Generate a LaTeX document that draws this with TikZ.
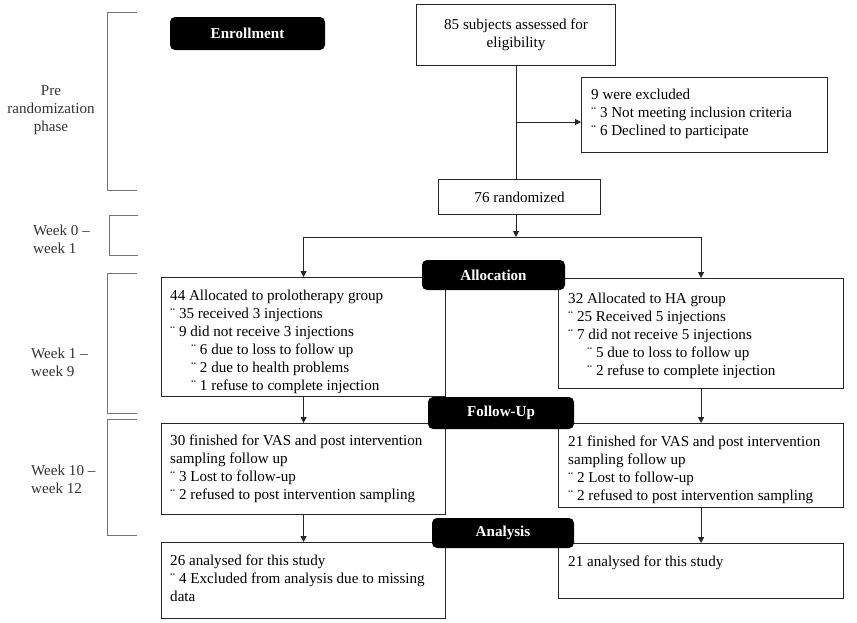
\documentclass[tikz,border=0pt]{standalone}
\usepackage{fontspec}
\setmainfont{Liberation Serif}
\usetikzlibrary{arrows.meta}
\begin{document}
\begin{tikzpicture}[x=1pt,y=-1pt,
  font=\fontsize{15.1}{18}\selectfont,
  box/.style={draw=black!85, line width=1.1pt, anchor=north west, inner sep=0pt},
  tag/.style={fill=black, rounded corners=5pt, text=white, font=\fontsize{15.1}{18}\selectfont\bfseries, inner sep=0pt},
  txt/.style={anchor=north west, inner sep=0pt, align=left},
  lbl/.style={inner sep=0pt, align=left, text=black!80},
  brk/.style={draw=black!55, line width=0.9pt},
  con/.style={draw=black!85, line width=1pt},
  arr/.style={con, -{Triangle[width=6pt,length=6pt]}}]
\useasboundingbox (0,0) rectangle (857,622);

% brackets
\path[brk] (137,12) -- (107,12) -- (107,190) -- (137,190);
\path[brk] (138,215) -- (109,215) -- (109,255) -- (138,255);
\path[brk] (137,273) -- (107,273) -- (107,413) -- (137,413);
\path[brk] (137,419) -- (107,419) -- (107,535) -- (137,535);

\node[lbl, align=center] (ph1) at (51,110) {Pre\\randomization\\phase};
\node[lbl, anchor=west] (ph2) at (33,239) {Week 0 --\\week 1};
\node[lbl, anchor=west] (ph3) at (31,362) {Week 1 --\\week 9};
\node[lbl, anchor=west] (ph4) at (31,479) {Week 10 --\\week 12};

% boxes
\node[box, minimum width=199pt, minimum height=61pt] (elig) at (416,4) {};
\node[box, minimum width=246pt, minimum height=75pt] (excl) at (581,77) {};
\node[box, minimum width=162pt, minimum height=35pt] (rand) at (438,179) {};
\node[box, minimum width=284pt, minimum height=119pt] (pro) at (161,277) {};
\node[box, minimum width=285pt, minimum height=110pt] (ha) at (558,278) {};
\node[box, minimum width=284pt, minimum height=91pt] (fuL) at (161,423) {};
\node[box, minimum width=285pt, minimum height=84pt] (fuR) at (558,423) {};
\node[box, minimum width=284pt, minimum height=76pt] (anL) at (161,542) {};
\node[box, minimum width=285pt, minimum height=55pt] (anR) at (558,543) {};

% texts
\node[inner sep=0pt, align=center] (eligT) at (elig.center) {85 subjects assessed for\\eligibility};
\node[txt] (exclT) at (591,89) {9 were excluded\\¨ 3 Not meeting inclusion criteria\\¨ 6 Declined to participate};
\node[inner sep=0pt] (randT) at (rand.center) {76 randomized};
\node[txt] (proT) at (170,290) {44 Allocated to prolotherapy group\\¨ 35 received 3 injections\\¨ 9 did not receive 3 injections\\\hspace*{21pt}¨ 6 due to loss to follow up\\\hspace*{21pt}¨ 2 due to health problems\\\hspace*{21pt}¨ 1 refuse to complete injection};
\node[txt] (haT) at (568,293) {32 Allocated to HA group\\¨ 25 Received 5 injections\\¨ 7 did not receive 5 injections\\\hspace*{19pt}¨ 5 due to loss to follow up\\\hspace*{19pt}¨ 2 refuse to complete injection};
\node[txt] (fuLT) at (170,435) {30 finished for VAS and post intervention\\sampling follow up\\¨ 3 Lost to follow-up\\¨ 2 refused to post intervention sampling};
\node[txt] (fuRT) at (568,436) {21 finished for VAS and post intervention\\sampling follow up\\¨ 2 Lost to follow-up\\¨ 2 refused to post intervention sampling};
\node[txt] (anLT) at (170,555) {26 analysed for this study\\¨ 4 Excluded from analysis due to missing\\data};
\node[txt] (anRT) at (568,556) {21 analysed for this study};

% connectors
\coordinate (top) at (516,65);
\coordinate (ex) at (581,122);
\coordinate (split) at (516,237);
\path[con] (top) -- (top |- rand.north);
\path[arr] (top |- ex) -- (ex);
\path[arr] (top |- rand.south) -- (split);
\path[arr] (split) -| (pro.north);
\path[arr] (split) -| (ha.north);
\path[arr] (pro.south) -- (fuL.north);
\path[arr] (ha.south) -- (fuR.north);
\path[arr] (fuL.south) -- (anL.north);
\path[arr] (fuR.south) -- (anR.north);

% tags
\node[tag, minimum width=155pt, minimum height=33pt] (enr) at (247.5,33.5) {Enrollment};
\node[tag, minimum width=143pt, minimum height=30pt] (alloc) at (493.5,275) {Allocation};
\node[tag, minimum width=146pt, minimum height=32pt] (fol) at (501,413) {Follow-Up};
\node[tag, minimum width=142pt, minimum height=30pt] (ana) at (503,533) {Analysis};
\end{tikzpicture}
\end{document}
